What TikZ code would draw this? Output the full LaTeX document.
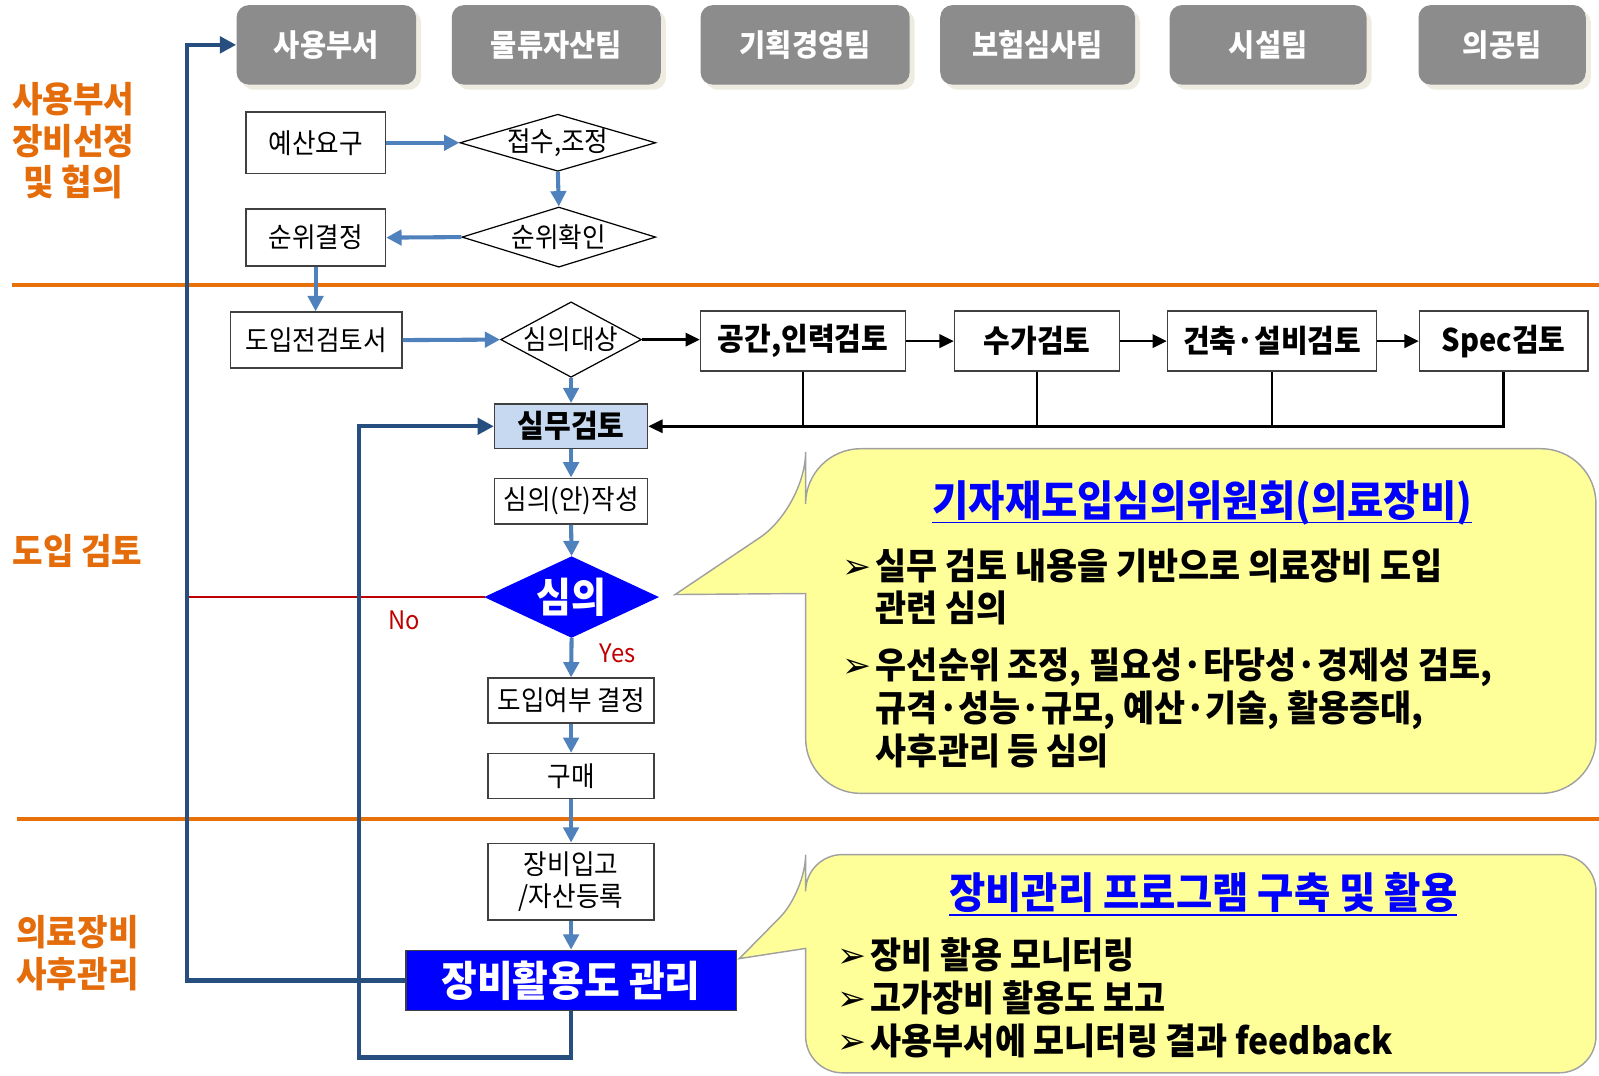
\documentclass[tikz,border=0pt]{standalone}
\usepackage{fontspec}
\setmainfont{Noto Sans CJK KR}[FakeStretch=0.93]
\newfontfamily\dingfont{DejaVu Sans}
\usetikzlibrary{arrows.meta,shapes.geometric,shadows}
\definecolor{hdrgray}{HTML}{8C8C8C}
\definecolor{shadowcream}{HTML}{EEECE1}
\definecolor{labelorange}{HTML}{E46C0A}
\definecolor{lineorange}{HTML}{E8700A}
\definecolor{flowblue}{HTML}{4F81BD}
\definecolor{loopblue}{HTML}{264E7E}
\definecolor{lightblue}{HTML}{C6D9F1}
\definecolor{pureblue}{HTML}{0000FF}
\definecolor{labred}{HTML}{C00000}
\definecolor{callyellow}{HTML}{FFFF99}
\definecolor{callgray}{HTML}{A0A0A0}
\definecolor{boxline}{HTML}{404040}
\newcommand\ulx[1]{\setbox0=\hbox{#1}\rlap{\rule[-3.5pt]{\wd0}{0.9pt}}\box0}
\newcommand\bul{\raisebox{0.5pt}{\dingfont\fontsize{17}{17}\selectfont ➢}}
\begin{document}
\begin{tikzpicture}[x=0.5pt,y=-0.5pt,
  hdr/.style={rectangle, rounded corners=6pt, fill=hdrgray, text=white,
    font=\bfseries\fontsize{15}{17}\selectfont, minimum height=39pt, inner sep=0pt,
    drop shadow={shadow xshift=2.5pt, shadow yshift=-2.5pt, fill=shadowcream, opacity=1}},
  fbox/.style={rectangle, draw=boxline, line width=0.75pt, fill=white, inner sep=0pt,
    align=center, font=\fontsize{13.5}{16}\selectfont},
  rbox/.style={fbox, font=\bfseries\fontsize{15.3}{17}\selectfont, minimum height=29.5pt},
  dia/.style={diamond, draw=black, line width=0.6pt, fill=white, inner sep=-1pt,
    font=\fontsize{13.5}{16}\selectfont},
  bflow/.style={draw=flowblue, line width=2pt, -{Triangle[length=7.5pt,width=7.5pt]}},
  loopl/.style={draw=loopblue, line width=2pt, -{Triangle[length=8pt,width=8pt]}},
  blk/.style={draw=black, line width=1.3pt, -{Triangle[length=7pt,width=6.5pt]}},
  blkline/.style={draw=black, line width=1.1pt},
  redl/.style={draw=labred, line width=1pt},
  lab/.style={text=labelorange, font=\bfseries\fontsize{17.5}{20.5}\selectfont, align=center, inner sep=0pt},
  sepline/.style={draw=lineorange, line width=2pt},
  callout/.style={fill=callyellow, draw=callgray, line width=0.7pt},
  ctitle/.style={text=pureblue, font=\bfseries\fontsize{20.8}{24}\selectfont, inner sep=0pt},
  cbody/.style={font=\bfseries\fontsize{17.8}{19.5}\selectfont, inner sep=0pt, anchor=north west},
  redlab/.style={text=labred, font=\fontsize{12.5}{14}\selectfont, inner sep=0pt}
]
\fill[white, use as bounding box] (0,0) rectangle (1568,1055);

% separators
\draw[sepline] (12,279.5) -- (1568,279.5);
\draw[sepline] (17,803) -- (1568,803);

% left labels
\node[lab] (labA) at (72,138) {사용부서\\장비선정\\및 협의};
\node[lab] (labB) at (76,540) {도입 검토};
\node[lab] (labC) at (76,935) {의료장비\\사후관리};

% header boxes
\node[hdr, minimum width=88pt] (h1) at (320,44) {사용부서};
\node[hdr, minimum width=102.5pt] (h2) at (545.5,44) {물류자산팀};
\node[hdr, minimum width=102.5pt] (h3) at (789.5,44) {기획경영팀};
\node[hdr, minimum width=95.5pt] (h4) at (1017.5,44) {보험심사팀};
\node[hdr, minimum width=96.5pt] (h5) at (1243.5,44) {시설팀};
\node[hdr, minimum width=82pt] (h6) at (1473,44) {의공팀};

% callouts
\filldraw[callout] (790,600) [rounded corners=27pt] -- (790,778) -- (1565,778) -- (1565,440) -- (790,440) -- (790,497) [sharp corners] -- (662,583) -- (790,582) -- cycle;
\filldraw[callout] (790,950) [rounded corners=18pt] -- (790,1052) -- (1565,1052) -- (1565,838) -- (790,838) -- (790,874) [sharp corners] -- (725,940) -- (790,930) -- cycle;

\node[ctitle] (c1t) at (1179,493) {\ulx{기자재도입심의위원회(의료장비)}};
\node[cbody] (c1b) at (826,537.5) {\begin{tabular}{@{}l@{\hspace{2pt}}l@{}}
\bul & 실무 검토 내용을 기반으로 의료장비 도입\\
 & 관련 심의\\[7pt]
\bul & 우선순위 조정, 필요성·타당성·경제성 검토,\\
 & 규격·성능·규모, 예산·기술, 활용증대,\\
 & 사후관리 등 심의
\end{tabular}};

\node[ctitle] (c2t) at (1180,877) {\ulx{장비관리 프로그램 구축 및 활용}};
\node[cbody, font=\bfseries\fontsize{17.8}{20.7}\selectfont] (c2b) at (821,918.6) {\begin{tabular}{@{}l@{\hspace{2pt}}l@{}}
\bul & 장비 활용 모니터링\\
\bul & 고가장비 활용도 보고\\
\bul & 사용부서에 모니터링 결과 feedback
\end{tabular}};

% flow nodes
\node[fbox, minimum width=68.5pt, minimum height=30pt] (n1) at (309.5,140) {예산요구};
\node[dia, minimum width=96pt, minimum height=28pt, aspect=3.43] (d1) at (547,140) {접수,조정};
\node[dia, minimum width=95pt, minimum height=29.5pt, aspect=3.2] (d2) at (548,232.5) {순위확인};
\node[fbox, minimum width=68.5pt, minimum height=28pt] (n2) at (309.5,233) {순위결정};
\node[fbox, minimum width=84pt, minimum height=27.5pt] (n3) at (310,333.5) {도입전검토서};
\node[dia, inner sep=-1.8pt, minimum width=69pt, minimum height=37pt, aspect=1.86] (d3) at (560,333) {심의대상};
\node[rbox, minimum width=100.5pt] (r1) at (787.5,334.5) {공간,인력검토};
\node[rbox, minimum width=81pt] (r2) at (1017,334.5) {수가검토};
\node[rbox, minimum width=102.5pt] (r3) at (1247.5,334.5) {건축·설비검토};
\node[rbox, minimum width=82.5pt] (r4) at (1474.5,334.5) {Spec검토};
\node[fbox, fill=lightblue, minimum width=75pt, minimum height=22pt, font=\bfseries\fontsize{15.3}{17}\selectfont] (sm) at (560,418) {실무검토};
\node[fbox, minimum width=75pt, minimum height=22.5pt] (sa) at (560,491.5) {심의(안)작성};
\node[dia, fill=pureblue, draw=pureblue, text=white, minimum width=84.5pt, minimum height=39.5pt, aspect=2.14, font=\bfseries\fontsize{20}{22}\selectfont] (dd) at (560.5,585.5) {심의};
\node[fbox, minimum width=81.5pt, minimum height=22pt] (dy) at (560,687) {도입여부 결정};
\node[fbox, minimum width=81.5pt, minimum height=22pt] (pu) at (560,761) {구매};
\node[fbox, minimum width=81.5pt, minimum height=37.5pt] (ei) at (560,864.5) {장비입고\\/자산등록};
\node[fbox, fill=pureblue, text=white, minimum width=162pt, minimum height=29.5pt, font=\bfseries\fontsize{20.5}{23}\selectfont] (ua) at (560,961.5) {장비활용도 관리};

\coordinate (ob) at (183,961.5);
\coordinate (ot) at (183,44);
\coordinate (ib) at (351.6,1037);
\coordinate (noend) at (183,585.5);

% connectors
\draw[bflow] (n1.east) -- (d1.west);
\draw[bflow] (d1.south) -- (d2.north);
\draw[bflow] (d2.west) -- (n2.east);
\draw[bflow] (n2.south) -- (n2.south |- n3.north);
\draw[bflow] (n3.east) -- (d3.west);
\draw[blk] (d3.east) -- (d3.east -| r1.west);
\draw[blk] (r1.east) -- (r2.west);
\draw[blk] (r2.east) -- (r3.west);
\draw[blk] (r3.east) -- (r4.west);
\draw[blkline] (r1.south) -- (r1.south |- sm.east);
\draw[blkline] (r2.south) -- (r2.south |- sm.east);
\draw[blkline] (r3.south) -- (r3.south |- sm.east);
\draw[blk] (r4.south) |- (sm.east);
\draw[bflow] (d3.south) -- (sm.north);
\draw[bflow] (sm.south) -- (sa.north);
\draw[bflow] (sa.south) -- (dd.north);
\draw[bflow] (dd.south) -- node[redlab, pos=0.4, right=13pt] (yes) {Yes} (dy.north);
\draw[bflow] (dy.south) -- (pu.north);
\draw[bflow] (pu.south) -- (ei.north);
\draw[bflow] (ei.south) -- (ua.north);
\draw[redl] (dd.west) -- node[redlab, pos=0.27, below=6pt] (no) {No} (noend);
\draw[loopl] (ua.west) -- (ob) -- (ot) -- (h1.west);
\draw[loopl] (ua.south) |- (ib) |- (sm.west);
\end{tikzpicture}
\end{document}
